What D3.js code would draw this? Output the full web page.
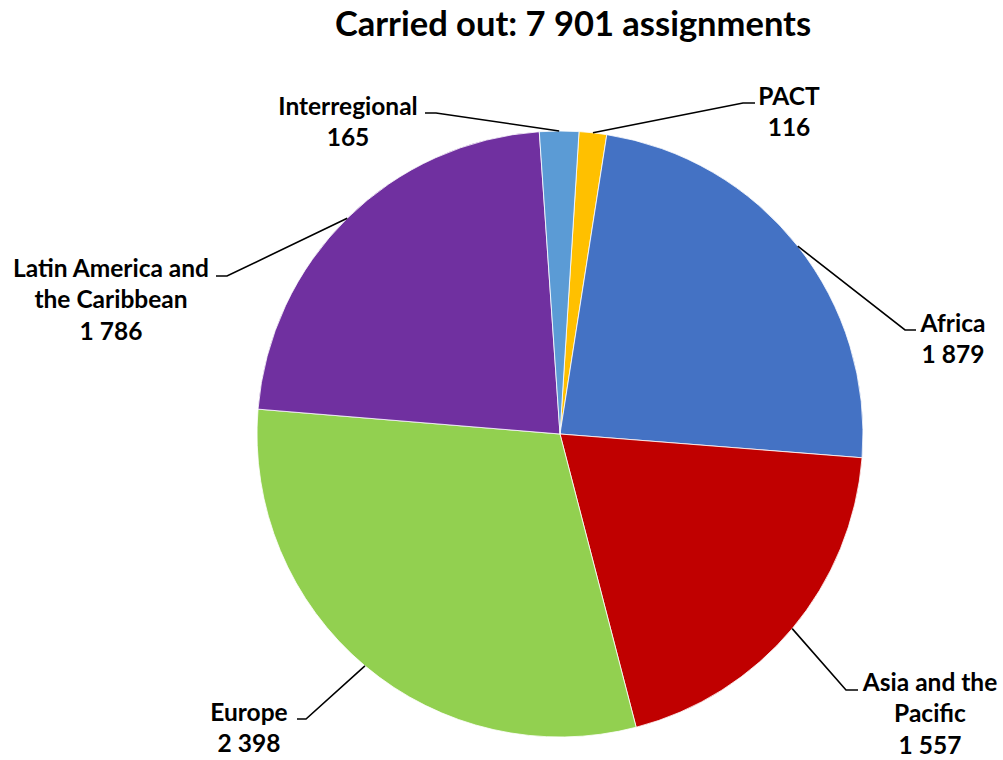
<!DOCTYPE html>
<html>
<head>
<meta charset="utf-8">
<script src="https://cdn.jsdelivr.net/npm/d3@7"></script>
<style>
  body { margin: 0; background: #fff; }
  svg text { font-family: Lato, "Open Sans", sans-serif; font-weight: bold; fill: #000; }
</style>
</head>
<body>
<div id="chart"></div>
<script>
// data, clockwise from the top
var categories = ["PACT", "Africa", "Asia and the Pacific", "Europe",
                  "Latin America and the Caribbean", "Interregional"];
var values = [116, 1879, 1557, 2398, 1786, 165];
var labelLines = [["PACT"], ["Africa"], ["Asia and the", "Pacific"], ["Europe"],
                  ["Latin America and", "the Caribbean"], ["Interregional"]];
var colors = ["#FFC000", "#4472C4", "#C00000", "#92D050", "#7030A0", "#5B9BD5"];
var titleText = "Carried out: 7 901 assignments";

// label placement (text centre, first line; elbow / end of the leader line)
var labelPos = [
    { tx: 789, ty: 96,  ly: 103, ex: 743, hx: 755 },
    { tx: 953, ty: 323, ly: 330, ex: 905, hx: 916 },
    { tx: 930, ty: 682, ly: 690, ex: 846, hx: 858 },
    { tx: 249, ty: 712, ly: 719, ex: 306, hx: 297 },
    { tx: 111, ty: 268, ly: 276, ex: 227, hx: 216 },
    { tx: 348, ty: 106, ly: 113, ex: 436, hx: 425 }
];

var width = 1003, height = 760;
var cx = 560, cy = 434, radius = 303;
var startDeg = 3.6;
var lineStep = 31.5;

var fmt = d3.formatLocale({ decimal: ".", thousands: "\u00a0", grouping: [3], currency: ["", ""] }).format(",d");

var svg = d3.select("#chart").append("svg")
            .attr("width", width)
            .attr("height", height);

svg.append("text")
   .attr("x", 573)
   .attr("y", 36)
   .attr("text-anchor", "middle")
   .style("font-size", "34.5px")
   .text(titleText);

var pie = d3.pie()
            .sort(null)
            .startAngle(startDeg * Math.PI / 180)
            .endAngle((startDeg + 360) * Math.PI / 180);

var arcs = pie(values);

var arc = d3.arc().innerRadius(0).outerRadius(radius);

var g = svg.append("g").attr("transform", "translate(" + cx + "," + cy + ")");

g.selectAll(".slice")
 .data(arcs)
 .enter().append("path")
 .attr("class", "slice")
 .attr("d", arc)
 .style("fill", function(d, i) { return colors[i]; })
 .style("stroke", "#fff")
 .style("stroke-width", 0.8);

// leader lines
svg.selectAll(".leader")
   .data(arcs)
   .enter().append("polyline")
   .attr("class", "leader")
   .attr("points", function(d, i) {
       var a = (d.startAngle + d.endAngle) / 2;
       var p = labelPos[i];
       var sx = cx + radius * Math.sin(a), sy = cy - radius * Math.cos(a);
       return [[sx, sy], [p.ex, p.ly], [p.hx, p.ly]].join(" ");
   })
   .style("fill", "none")
   .style("stroke", "#000")
   .style("stroke-width", 1.6);

// labels
var lab = svg.selectAll(".lab")
             .data(arcs)
             .enter().append("text")
             .attr("class", "lab")
             .attr("text-anchor", "middle")
             .style("font-size", "24.5px");

lab.each(function(d, i) {
    var t = d3.select(this);
    var lines = labelLines[i].concat([fmt(values[i])]);
    lines.forEach(function(s, k) {
        t.append("tspan")
         .attr("x", labelPos[i].tx)
         .attr("y", labelPos[i].ty + k * lineStep)
         .attr("dy", "0.35em")
         .text(s);
    });
});
</script>
</body>
</html>
